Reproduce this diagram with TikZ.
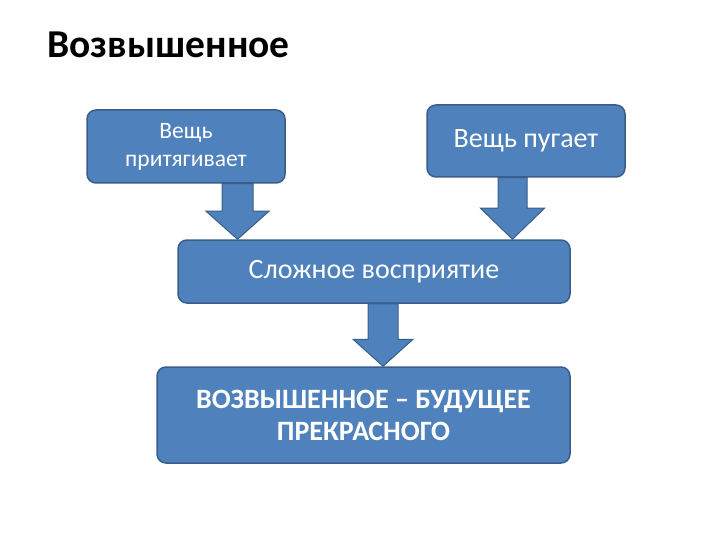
\documentclass[tikz,border=0pt]{standalone}
\usepackage{fontspec}
\setmainfont{Carlito}
\usetikzlibrary{calc}
\definecolor{boxfill}{HTML}{4F81BD}
\definecolor{boxline}{HTML}{385D8A}
\tikzset{
  box/.style={rectangle, rounded corners=9pt, draw=boxline, line width=1.5pt, fill=boxfill, text=white, align=center, inner sep=0pt},
  barrow/.style={draw=boxline, line width=1pt, fill=boxfill, line join=miter},
}
% #1 x position, #2 start node anchor, #3 end node anchor, #4 shaft half width, #5 head half width, #6 head length
\newcommand\blockarr[6]{%
  \draw[barrow] let \p1=(#2), \p2=(#3) in
    (#1-#4,\y1) -- (#1+#4,\y1) -- (#1+#4,\y2+#6) -- (#1+#5,\y2+#6) -- (#1,\y2)
    -- (#1-#5,\y2+#6) -- (#1-#4,\y2+#6) -- cycle;}
\begin{document}
\begin{tikzpicture}[x=1pt,y=-1pt]
\useasboundingbox (0,0) rectangle (720,540);
\node[anchor=base west, font=\bfseries\fontsize{39.5}{44}\selectfont] (title) at (44,58) {Возвышенное};
\node[box, minimum width=198pt, minimum height=73pt, font=\fontsize{23.5}{28}\selectfont] (b1) at (186,146.5) {Вещь\\притягивает};
\node[box, minimum width=198pt, minimum height=72pt, font=\fontsize{28}{32}\selectfont] (b2) at (526,141) {Вещь пугает};
\node[box, minimum width=392pt, minimum height=63pt, font=\fontsize{28}{32}\selectfont] (b3) at (374,271.5) {Сложное восприятие};
\node[box, minimum width=413pt, minimum height=96pt, font=\bfseries\fontsize{28}{32}\selectfont] (b4) at (363.5,415) {ВОЗВЫШЕННОЕ – БУДУЩЕЕ\\ПРЕКРАСНОГО};
\blockarr{237.5pt}{b1.south}{b3.north}{15.5pt}{31.5pt}{28pt}
\blockarr{512.5pt}{b2.south}{b3.north}{14.5pt}{32pt}{31pt}
\blockarr{383pt}{b3.south}{b4.north}{15pt}{30pt}{27pt}
\end{tikzpicture}
\end{document}
